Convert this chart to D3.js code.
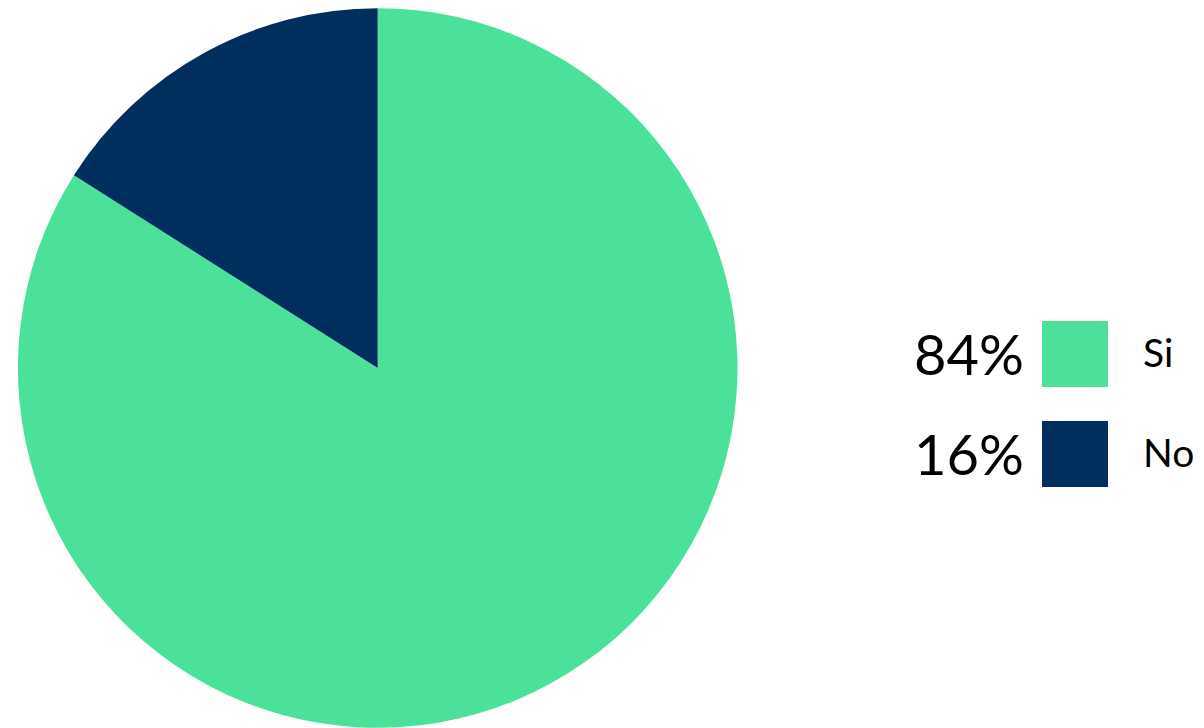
<!DOCTYPE html>
<html><head><meta charset="utf-8">
<script src="https://cdn.jsdelivr.net/npm/d3@7"></script>
<style>html,body{margin:0;padding:0;background:#fff;overflow:hidden}</style>
</head><body>
<svg id="chart" width="1204" height="728"></svg>
<script>
const categories = ["Si", "No"];
const values = [84, 16];
const pctLabels = ["84%", "16%"];
const colors = ["#4BE19B", "#002F5E"];

const svg = d3.select("#chart");
const cx = 377.7, cy = 368, r = 359.8;

const pie = d3.pie().sort(null).value(d => d.v);
const data = pie(categories.map((c, i) => ({c, v: values[i], i})));
const arc = d3.arc().innerRadius(0).outerRadius(r);
const color = d3.scaleOrdinal().domain(categories).range(colors);

svg.append("g").attr("transform", `translate(${cx},${cy})`)
  .selectAll("path").data(data).join("path")
  .attr("d", arc).attr("fill", d => color(d.data.c));

const ly = d3.scaleBand().domain(categories).range([321, 521]).paddingInner(0.34).paddingOuter(0);
const leg = svg.append("g").selectAll("g").data(categories).join("g")
  .attr("transform", (d, i) => `translate(0,${321 + i * 100})`);
leg.append("rect").attr("x", 1042).attr("y", 0).attr("width", 66).attr("height", 66)
  .attr("fill", d => color(d));
leg.append("text").attr("x", 914).attr("y", 54)
  .attr("font-family", "Lato, sans-serif").attr("font-size", 56).attr("fill", "#000")
  .text((d, i) => pctLabels[i]);
leg.append("text").attr("x", 1143).attr("y", 45.5)
  .attr("font-family", "Lato, sans-serif").attr("font-size", 39).attr("fill", "#000")
  .text(d => d);
</script>
</body></html>
